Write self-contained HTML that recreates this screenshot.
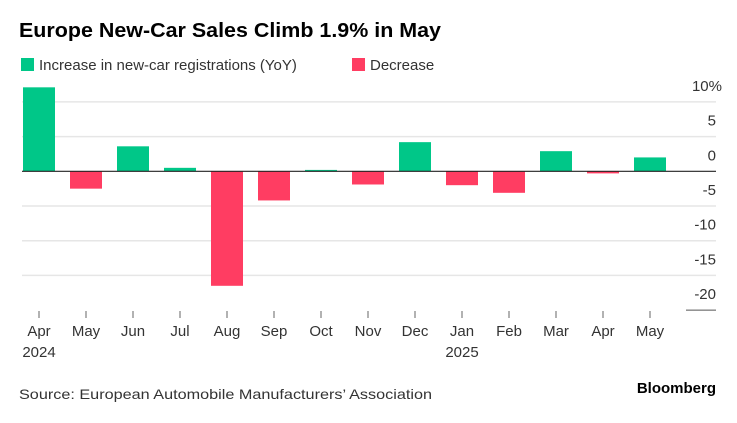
<!DOCTYPE html>
<html><head><meta charset="utf-8"><style>
body{margin:0;background:#fff;width:737px;height:418px;overflow:hidden;font-family:"Liberation Sans",sans-serif}
</style></head><body>
<svg width="737" height="418" xmlns="http://www.w3.org/2000/svg">
<text x="19" y="37" font-size="20" font-weight="bold" fill="#000" textLength="422" lengthAdjust="spacingAndGlyphs">Europe New-Car Sales Climb 1.9% in May</text>
<g>
<rect x="21" y="58" width="13" height="13" fill="#00c788"/>
<text x="39" y="70" font-size="15" fill="#333">Increase in new-car registrations (YoY)</text>
<rect x="352" y="58" width="13" height="13" fill="#ff3d62"/>
<text x="370" y="70" font-size="15" fill="#333">Decrease</text>
</g>
<g id="grid"></g><g id="bars"></g><g id="axis"></g>
<text x="19" y="399" font-size="14" fill="#333" textLength="413" lengthAdjust="spacingAndGlyphs">Source: European Automobile Manufacturers’ Association</text>
<text x="716" y="393" font-size="15" font-weight="bold" fill="#000" text-anchor="end">Bloomberg</text>
</svg>
<script>
const months=["Apr","May","Jun","Jul","Aug","Sep","Oct","Nov","Dec","Jan","Feb","Mar","Apr","May"];
const years=["2024","","","","","","","","","2025","","","",""];
const values=[12.1,-2.5,3.6,0.5,-16.5,-4.2,0.2,-1.9,4.2,-2.0,-3.1,2.9,-0.3,2.0];
const yTicks=[10,5,0,-5,-10,-15,-20];
const NS="http://www.w3.org/2000/svg";
function y(v){return 171.3-v*6.94;}
function x(i){return 39+i*47;}
function mk(t,a,p){const e=document.createElementNS(NS,t);for(const k in a)e.setAttribute(k,a[k]);p.appendChild(e);return e;}
const g=document.getElementById('grid'),b=document.getElementById('bars'),ax=document.getElementById('axis');
yTicks.forEach(v=>{
 if(v!==0&&v!==-20){const l=mk('line',{x1:22,x2:716,y1:y(v),y2:y(v),stroke:'#e6e6e6','stroke-width':1.5},g);
 
 }
 const t=mk('text',{x:v===10?722:716,y:y(v)-11,'font-size':15,fill:'#333','text-anchor':'end'},g);
 t.textContent=v===10?'10%':String(v);
 
 
});
const sl=mk('line',{x1:686,x2:716,y1:y(-20),y2:y(-20),stroke:'#555','stroke-width':1},g);


values.forEach((v,i)=>{
 const r=mk('rect',{x:x(i)-16,width:32,y:Math.min(y(v),y(0)),height:Math.max(Math.abs(y(v)-y(0)),1),fill:v>=0?'#00c788':'#ff3d62'},b);
 
 
 const tk=mk('line',{x1:x(i),x2:x(i),y1:311,y2:318,stroke:'#666','stroke-width':1},ax);
 
 
 const t=mk('text',{x:x(i),y:336,'font-size':15,fill:'#333','text-anchor':'middle'},ax);
 t.textContent=months[i];
 
 
 if(years[i]){const yt=mk('text',{x:x(i),y:357,'font-size':15,fill:'#333','text-anchor':'middle'},ax);
 yt.textContent=years[i];
 
 }
});
const zl=mk('line',{x1:22,x2:716,y1:y(0),y2:y(0),stroke:'#222','stroke-width':1.2},ax);


</script>
</body></html>
